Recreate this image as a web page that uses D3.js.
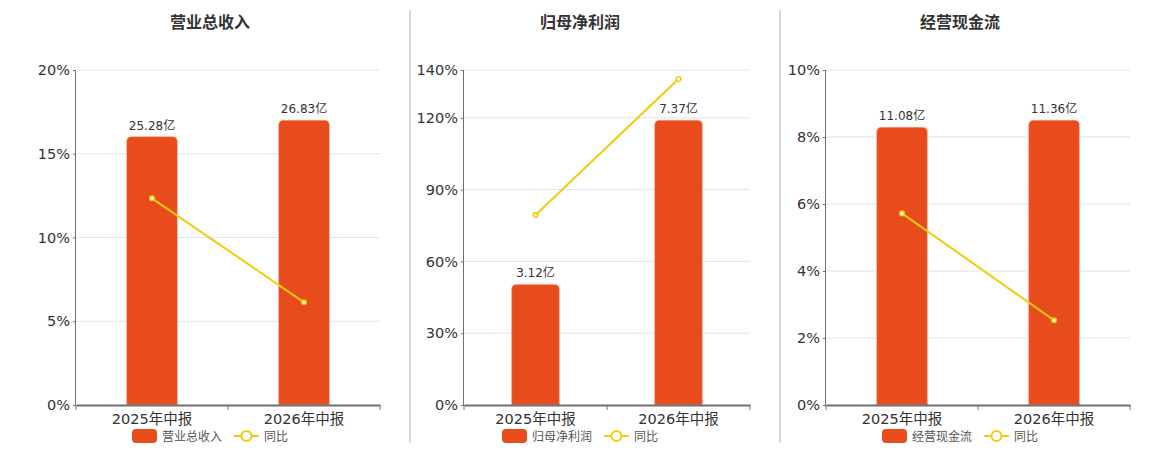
<!DOCTYPE html>
<html><head><meta charset="utf-8">
<script src="https://cdn.jsdelivr.net/npm/d3@7"></script>
<style>
html,body{margin:0;padding:0;background:#fff;}
svg{display:block;font-family:"DejaVu Sans","Noto Sans CJK SC",sans-serif;}
</style></head>
<body><svg id="c" width="1160" height="450"></svg>
<script>
const categories = ["2025年中报", "2026年中报"];
const titles = ["营业总收入", "归母净利润", "经营现金流"];
const revenueValues = [25.28, 26.83];
const profitValues = [3.12, 7.37];
const cashValues = [11.08, 11.36];
const revenueYoy = [12.34, 6.13];
const profitYoy = [79.4, 136.2];
const cashYoy = [5.72, 2.53];
const revenueTicks = [0, 5, 10, 15, 20];
const profitTicks = [0, 30, 60, 90, 120, 140];
const cashTicks = [0, 2, 4, 6, 8, 10];
const lineName = "同比";
const unit = "亿";

const barSeries = [revenueValues, profitValues, cashValues];
const yoySeries = [revenueYoy, profitYoy, cashYoy];
const tickSets = [revenueTicks, profitTicks, cashTicks];

const layout = [
  {left: 76, right: 380, center: 210},
  {left: 464, right: 750, center: 580},
  {left: 826, right: 1130, center: 960}
];
const plotTop = 70, plotBottom = 405;
const barColor = "#E84C1C", lineColor = "#F2CC0C";
const FONT = '"DejaVu Sans","Noto Sans CJK SC",sans-serif';
const svg = d3.select("#c");

// separators
[410, 780].forEach(x => svg.append("line").attr("x1", x).attr("x2", x).attr("y1", 10).attr("y2", 443)
  .attr("stroke", "#b4b4b4").attr("stroke-width", 1));

titles.forEach((title, i) => {
  const L = layout[i];
  const g = svg.append("g");
  const ticks = tickSets[i];
  const x = d3.scaleBand().domain(categories).range([L.left, L.right]).padding(0);
  const y = d3.scaleLinear().domain([0, d3.max(ticks)]).range([plotBottom, plotTop]);
  const yb = d3.scaleLinear().domain([0, d3.max(barSeries[i]) / 0.85]).range([plotBottom, plotTop]);

  g.append("text").attr("x", L.center).attr("y", 28).attr("text-anchor", "middle")
    .attr("font-size", 16).attr("font-weight", "bold").attr("fill", "#333").text(title);

  // grid
  g.selectAll(".grid").data(ticks.filter(t => t > 0)).join("line")
    .attr("x1", L.left).attr("x2", L.right).attr("y1", d => y(d)).attr("y2", d => y(d))
    .attr("stroke", "#E0E3EC").attr("stroke-width", 1);

  // y axis
  const ya = g.append("g").attr("transform", `translate(${L.left},0)`)
    .call(d3.axisLeft(y).tickValues(ticks).tickFormat(d => d + "%").tickSize(3).tickPadding(3));
  ya.attr("font-family", FONT);
  ya.select(".domain").attr("stroke", "#6E7079").attr("d", `M-0.5,${plotTop}V${plotBottom}`);
  ya.selectAll(".tick line").attr("stroke", "#6E7079");
  ya.selectAll(".tick text").attr("font-size", 14.5).attr("fill", "#333");

  // bars
  const bw = x.bandwidth() / 3;
  const r = 5;
  g.selectAll(".bar").data(barSeries[i]).join("path")
    .attr("fill", barColor).attr("stroke", "#f3a58a").attr("stroke-width", 0.6)
    .attr("d", (d, j) => {
      const cx = x(categories[j]) + x.bandwidth() / 2;
      const x0 = cx - bw / 2, x1 = cx + bw / 2, y0 = yb(d), y1 = plotBottom;
      return `M${x0},${y1}V${y0 + r}Q${x0},${y0} ${x0 + r},${y0}H${x1 - r}Q${x1},${y0} ${x1},${y0 + r}V${y1}Z`;
    });
  g.selectAll(".blab").data(barSeries[i]).join("text")
    .attr("x", (d, j) => x(categories[j]) + x.bandwidth() / 2)
    .attr("y", d => yb(d) - 7).attr("text-anchor", "middle")
    .attr("font-size", 12).attr("fill", "#333").text(d => d.toFixed(2) + unit);

  // x axis
  const xa = g.append("g").attr("transform", `translate(0,${plotBottom})`)
    .call(d3.axisBottom(x).tickSize(0).tickPadding(10));
  xa.attr("font-family", FONT);
  xa.select(".domain").attr("stroke", "#6E7079").attr("stroke-width", 2);
  xa.selectAll(".tick text").attr("font-size", 14.5).attr("fill", "#333").attr("dy", "0.6em");
  g.selectAll(".xt").data([L.left, ...categories.map(c => x(c) + x.bandwidth())]).join("line")
    .attr("x1", d => d).attr("x2", d => d).attr("y1", plotBottom).attr("y2", plotBottom + 5)
    .attr("stroke", "#6E7079");

  // line
  const pts = yoySeries[i].map((v, j) => [x(categories[j]) + x.bandwidth() / 2, y(v)]);
  g.append("path").attr("d", d3.line()(pts)).attr("fill", "none")
    .attr("stroke", lineColor).attr("stroke-width", 2);
  g.selectAll(".pt").data(pts).join("circle").attr("cx", d => d[0]).attr("cy", d => d[1])
    .attr("r", 2.3).attr("fill", "#fff").attr("stroke", lineColor).attr("stroke-width", 1.5);

  // legend
  const lg = g.append("g");
  const name = title;
  const nameW = name.length * 12;
  const total = 25 + 5 + nameW + 12 + 25 + 5 + lineName.length * 12;
  let lx = L.center - total / 2;
  lg.append("rect").attr("x", lx).attr("y", 429).attr("width", 25).attr("height", 14)
    .attr("rx", 4).attr("fill", barColor);
  lg.append("text").attr("x", lx + 30).attr("y", 440.5).attr("font-size", 12).attr("fill", "#555").text(name);
  lx += 30 + nameW + 12;
  lg.append("line").attr("x1", lx).attr("x2", lx + 25).attr("y1", 436).attr("y2", 436)
    .attr("stroke", lineColor).attr("stroke-width", 2);
  lg.append("circle").attr("cx", lx + 12.5).attr("cy", 436).attr("r", 5)
    .attr("fill", "#fff").attr("stroke", lineColor).attr("stroke-width", 2);
  lg.append("text").attr("x", lx + 30).attr("y", 440.5).attr("font-size", 12).attr("fill", "#555").text(lineName);
});
</script></body></html>
